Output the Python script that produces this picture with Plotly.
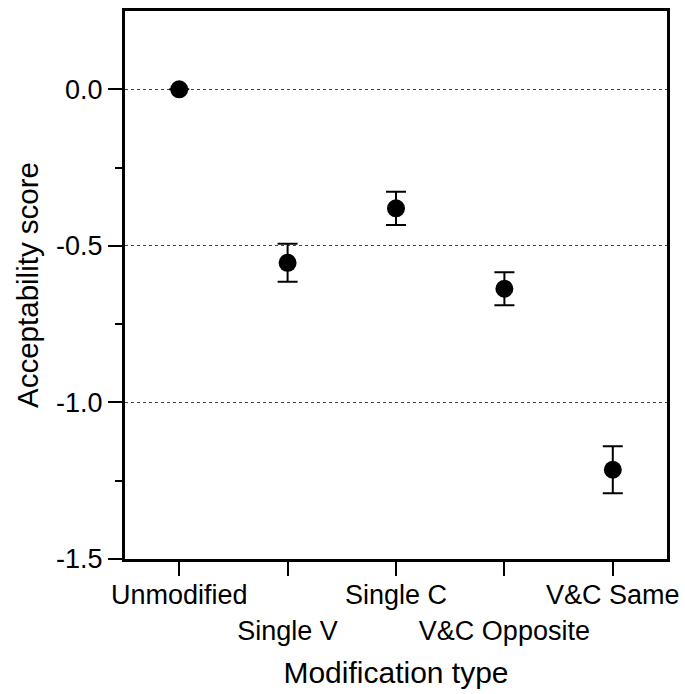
import plotly.graph_objects as go

# Mean acceptability score per modification type, with error bar half-widths
categories = ["Unmodified", "Single V", "Single C", "V&C Opposite", "V&C Same"]
scores = [0.0, -0.554, -0.380, -0.637, -1.215]
errors = [0.0, 0.061, 0.053, 0.053, 0.075]

y_ticks = [0.0, -0.5, -1.0, -1.5]
y_tick_labels = ["0.0", "-0.5", "-1.0", "-1.5"]
y_minor_ticks = [-0.25, -0.75, -1.25]

positions = list(range(len(categories)))
# stagger the category labels on two rows
x_tick_labels = [c if i % 2 == 0 else "<br>" + c for i, c in enumerate(categories)]

FONT = "Liberation Sans, Arial, sans-serif"

fig = go.Figure()
fig.add_trace(go.Scatter(
    x=positions,
    y=scores,
    mode="markers",
    marker=dict(size=18, color="black", symbol="circle"),
    error_y=dict(type="data", array=errors, visible=True,
                 color="black", thickness=2, width=10),
    showlegend=False,
))

fig.update_layout(
    width=685, height=694,
    margin=dict(l=125, r=18, t=11, b=135),
    paper_bgcolor="white", plot_bgcolor="white",
    font=dict(family=FONT, size=27, color="black"),
    xaxis=dict(
        range=[-0.5, 4.5],
        tickmode="array", tickvals=positions, ticktext=x_tick_labels,
        tickangle=0, automargin=False, ticklabelstandoff=-4,
        ticks="outside", ticklen=14, tickwidth=2, tickcolor="black",
        showline=True, linewidth=3, linecolor="black", mirror=True,
        showgrid=False, zeroline=False,
        tickfont=dict(size=27),
        title=dict(text="Modification type", font=dict(size=30), standoff=18),
    ),
    yaxis=dict(
        range=[-1.5, 0.25],
        tickmode="array", tickvals=y_ticks, ticktext=y_tick_labels,
        automargin=False,
        ticks="outside", ticklen=14, tickwidth=2, tickcolor="black",
        minor=dict(tickmode="array", tickvals=y_minor_ticks, ticks="outside",
                   ticklen=7, tickwidth=2, tickcolor="black", showgrid=False),
        showline=True, linewidth=3, linecolor="black", mirror=True,
        showgrid=True, gridcolor="#444444", gridwidth=1, griddash="dot",
        zeroline=False,
        tickfont=dict(size=27),
        title=dict(text="Acceptability score", font=dict(size=29.5), standoff=9),
    ),
)

fig.write_html("out.html")
